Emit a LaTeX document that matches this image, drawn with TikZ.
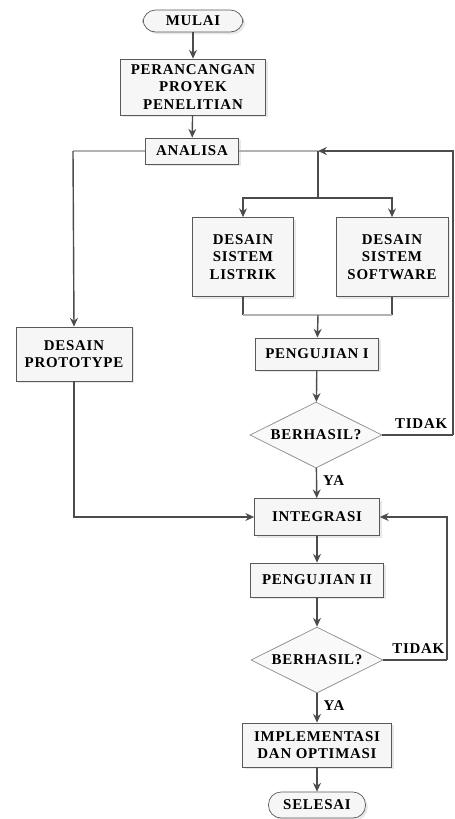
\documentclass[tikz,border=0pt]{standalone}
\usepackage{fontspec}
\setmainfont{Liberation Serif}[LetterSpace=5]
\usetikzlibrary{shapes.geometric,shadows,arrows.meta}

\begin{document}
\begin{tikzpicture}[x=0.02cm, y=-0.02cm, >={Stealth[length=5pt,width=4.5pt]},
    font=\bfseries\fontsize{8.5}{10}\selectfont,
    proc/.style={draw=black!65, fill=gray!7, thin, rectangle, align=center, inner sep=1pt,
        drop shadow={shadow xshift=1.3pt, shadow yshift=-1.3pt, fill=gray!35}},
    term/.style={proc, rounded corners=0.25cm},
    cek/.style={draw=black!45, fill=gray!5, thin, diamond, aspect=2, inner sep=1pt,
        minimum width=2.64cm, minimum height=1.32cm},
    line/.style={draw=black!70, thick},
    faint/.style={draw=black!30, thick}]
    \useasboundingbox (0,0) rectangle (454,819);

    \node[term, minimum width=2cm, minimum height=0.44cm] (mulai) at (193,21) {MULAI};
    \node[proc, minimum width=2.9cm, minimum height=1.12cm] (rancang) at (193,87)
        {PERANCANGAN\\PROYEK\\PENELITIAN};
    \node[proc, minimum width=1.86cm, minimum height=0.52cm] (analisa) at (192,151) {ANALISA};
    \node[proc, minimum width=2.02cm, minimum height=1.58cm] (listrik) at (243,257)
        {DESAIN\\SISTEM\\LISTRIK};
    \node[proc, minimum width=2.24cm, minimum height=1.58cm] (software) at (392,257)
        {DESAIN\\SISTEM\\SOFTWARE};
    \node[proc, minimum width=2.32cm, minimum height=1.08cm] (proto) at (74,354)
        {DESAIN\\PROTOTYPE};
    \node[proc, minimum width=2.46cm, minimum height=0.64cm] (uji1) at (317,354) {PENGUJIAN I};
    \node[cek] (cek1) at (316,435) {BERHASIL?};
    \node[proc, minimum width=2.5cm, minimum height=0.74cm] (integ) at (317,517) {INTEGRASI};
    \node[proc, minimum width=2.66cm, minimum height=0.68cm] (uji2) at (317,580) {PENGUJIAN II};
    \node[cek] (cek2) at (317,660) {BERHASIL?};
    \node[proc, minimum width=2.98cm, minimum height=0.88cm] (impl) at (317,745)
        {IMPLEMENTASI\\DAN OPTIMASI};
    \node[term, minimum width=1.94cm, minimum height=0.52cm] (selesai) at (317,805) {SELESAI};

    \coordinate (kiri) at (73,151);
    \coordinate (pisah) at (318,151);
    \coordinate (cabang) at (318,198);
    \coordinate (bawah1) at (243,315);
    \coordinate (bawah2) at (392,315);
    \coordinate (gabung) at (318,315);
    \coordinate (balik1) at (453,435);
    \coordinate (balik2) at (447,660);

    % alur utama
    \draw[line,->] (mulai) -- (rancang);
    \draw[line,->] (rancang) -- (analisa);
    \draw[faint] (analisa.west) -- (kiri);
    \draw[line,->] (kiri) -- (proto.north);
    \draw[faint] (analisa.east) -- (pisah);
    \draw[line] (pisah) -- (cabang);
    \draw[line,->] (cabang) -| (listrik.north);
    \draw[line,->] (cabang) -| (software.north);
    \draw[line] (listrik.south) -- (bawah1);
    \draw[line] (software.south) -- (bawah2);
    \draw[faint] (bawah1) -- (bawah2);
    \draw[line,->] (gabung) -- (uji1);
    \draw[line,->] (uji1) -- (cek1);
    \draw[line,->] (cek1) -- node[right, pos=0.4] {YA} (integ);
    \draw[line] (cek1.east) -- node[above, pos=0.55] {TIDAK} (balik1);
    \draw[line,->] (balik1) |- (pisah);
    \draw[line,->] (proto.south) |- (integ.west);

    \draw[line,->] (integ) -- (uji2);
    \draw[line,->] (uji2) -- (cek2);
    \draw[line,->] (cek2) -- node[right, pos=0.4] {YA} (impl);
    \draw[line] (cek2.east) -- node[above, pos=0.55] {TIDAK} (balik2);
    \draw[line,->] (balik2) |- (integ.east);
    \draw[line,->] (impl) -- (selesai);
\end{tikzpicture}
\end{document}
